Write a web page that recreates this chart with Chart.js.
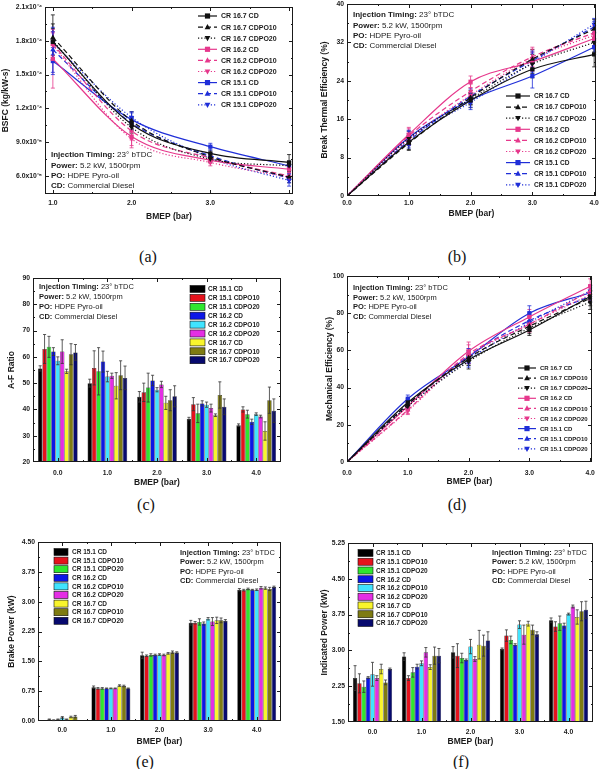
<!DOCTYPE html>
<html><head><meta charset="utf-8">
<script src="https://cdn.jsdelivr.net/npm/chart.js@4.4.1/dist/chart.umd.min.js"></script>
<style>
html,body{margin:0;padding:0;background:#fff;width:600px;height:769px;overflow:hidden;position:relative;}
canvas{position:absolute;}
.sub{position:absolute;font-family:'Liberation Serif','DejaVu Serif',serif;font-size:16px;color:#111;transform:translate(-50%,-50%);white-space:nowrap;}
</style></head><body>
<div class="sub" style="left:148px;top:257px">(a)</div>
<div class="sub" style="left:457px;top:257px">(b)</div>
<div class="sub" style="left:146px;top:505px">(c)</div>
<div class="sub" style="left:457px;top:505px">(d)</div>
<div class="sub" style="left:145px;top:762px">(e)</div>
<div class="sub" style="left:461px;top:762px">(f)</div>
<script>
// ================= DATA =================
const bmepCats = ['0.0', '1.0', '2.0', '3.0', '4.0'];
const bmepBsfc = [1, 2, 3, 4];
const bmepEff = [0, 1, 2, 3, 4];
const bmepTicks = [0, 1, 2, 3, 4];
const lineSeries = ['CR 16.7 CD', 'CR 16.7 CDPO10', 'CR 16.7 CDPO20', 'CR 16.2 CD', 'CR 16.2 CDPO10', 'CR 16.2 CDPO20', 'CR 15.1 CD', 'CR 15.1 CDPO10', 'CR 15.1 CDPO20'];
const barSeries = ['CR 15.1 CD', 'CR 15.1 CDPO10', 'CR 15.1 CDPO20', 'CR 16.2 CD', 'CR 16.2 CDPO10', 'CR 16.2 CDPO20', 'CR 16.7 CD', 'CR 16.7 CDPO10', 'CR 16.7 CDPO20'];

// (a) BSFC (kg/kW-s)
const bsfcTicks = [6.0e-5, 9.0e-5, 1.2e-4, 1.5e-4, 1.8e-4, 2.1e-4];
const bsfcValues = [
  [1.79e-4, 1.06e-4, 0.80e-4, 0.72e-4],
  [1.83e-4, 1.09e-4, 0.77e-4, 0.59e-4],
  [1.80e-4, 1.03e-4, 0.75e-4, 0.69e-4],
  [1.64e-4, 0.95e-4, 0.74e-4, 0.66e-4],
  [1.77e-4, 1.00e-4, 0.76e-4, 0.60e-4],
  [1.76e-4, 0.93e-4, 0.72e-4, 0.59e-4],
  [1.62e-4, 1.10e-4, 0.86e-4, 0.69e-4],
  [1.72e-4, 1.07e-4, 0.78e-4, 0.58e-4],
  [1.78e-4, 1.12e-4, 0.76e-4, 0.56e-4]
];
const bsfcErr = [
  [0.12e-4, 0.06e-4, 0.03e-4, 0.07e-4],
  [0.20e-4, 0.08e-4, 0.03e-4, 0.05e-4],
  [0.15e-4, 0.05e-4, 0.03e-4, 0.04e-4],
  [0.26e-4, 0.10e-4, 0.03e-4, 0.03e-4],
  [0.10e-4, 0.08e-4, 0.02e-4, 0.03e-4],
  [0.12e-4, 0.06e-4, 0.03e-4, 0.03e-4],
  [0.12e-4, 0.06e-4, 0.03e-4, 0.04e-4],
  [0.20e-4, 0.06e-4, 0.03e-4, 0.04e-4],
  [0.10e-4, 0.05e-4, 0.03e-4, 0.05e-4]
];

// (b) Brake thermal efficiency (%)
const bteTicks = [0, 8, 16, 24, 32, 40];
const bteValues = [
  [0, 11.2, 19.9, 26.4, 29.5],
  [0, 11.0, 20.5, 28.5, 34.8],
  [0, 12.0, 20.2, 27.5, 32.0],
  [0, 12.8, 23.8, 28.0, 32.8],
  [0, 12.5, 21.8, 29.0, 34.0],
  [0, 11.8, 21.0, 28.6, 33.5],
  [0, 12.2, 20.0, 25.0, 31.0],
  [0, 11.5, 20.8, 28.2, 35.2],
  [0, 12.0, 19.5, 27.8, 35.8]
];
const bteErr = [
  [0, 1.5, 1.5, 1.8, 2.6],
  [0, 1.5, 1.5, 2.0, 2.0],
  [0, 1.5, 1.2, 2.0, 2.0],
  [0, 1.5, 1.2, 2.0, 1.5],
  [0, 1.5, 1.5, 2.0, 1.5],
  [0, 1.2, 1.5, 2.0, 1.5],
  [0, 1.5, 1.5, 2.5, 1.5],
  [0, 1.5, 1.5, 2.0, 1.2],
  [0, 1.5, 1.5, 2.0, 1.2]
];

// (c) A-F ratio
const afTicks = [20, 30, 40, 50, 60, 70, 80, 90];
const afValues = [
  [55.6, 50.0, 44.8, 36.5, 34.0],
  [63.0, 55.8, 46.5, 42.0, 40.0],
  [63.8, 54.5, 48.3, 38.5, 38.2],
  [62.0, 58.2, 51.0, 42.3, 35.3],
  [58.5, 52.5, 47.5, 41.8, 38.2],
  [62.0, 52.8, 49.5, 40.5, 37.3],
  [54.5, 49.0, 42.5, 37.8, 31.8],
  [61.0, 53.0, 43.5, 45.5, 43.5],
  [61.7, 52.0, 45.0, 41.0, 39.5]
];
const afErr = [
  [1.0, 1.5, 2.0, 0.5, 0.5],
  [5.5, 6.5, 3.5, 2.5, 1.0],
  [4.0, 9.0, 5.5, 3.5, 1.5],
  [1.5, 4.0, 2.0, 1.0, 1.0],
  [1.5, 2.0, 0.8, 1.0, 0.5],
  [4.5, 1.0, 1.2, 1.5, 0.5],
  [0.8, 5.0, 2.5, 0.5, 3.5],
  [4.0, 5.5, 4.0, 5.0, 5.0],
  [3.0, 4.5, 4.0, 3.0, 4.5]
];

// (d) Mechanical efficiency (%)
const meTicks = [0, 20, 40, 60, 80, 100];
const meValues = [
  [0, 32.0, 55.0, 71.0, 89.0],
  [0, 31.0, 56.0, 73.0, 88.0],
  [0, 30.0, 54.0, 72.0, 86.0],
  [0, 30.0, 59.5, 78.0, 94.5],
  [0, 28.0, 58.0, 74.0, 92.0],
  [0, 27.5, 57.0, 74.0, 90.0],
  [0, 34.0, 56.5, 80.0, 91.0],
  [0, 31.0, 57.0, 76.0, 89.0],
  [0, 30.0, 55.0, 75.0, 92.0]
];
const meErr = [
  [0, 2, 3, 3, 3],
  [0, 2, 4, 3, 4],
  [0, 2, 4, 3, 4],
  [0, 2, 5, 4, 4],
  [0, 2, 5, 4, 3],
  [0, 2, 4, 4, 3],
  [0, 2, 3, 4, 3],
  [0, 2, 4, 4, 3],
  [0, 2, 4, 4, 3]
];

// (e) Brake power (kW)
const bpTicks = [0, 0.75, 1.5, 2.25, 3.0, 3.75, 4.5];
const bpValues = [
  [0.01, 0.85, 1.65, 2.47, 3.30],
  [0.04, 0.82, 1.64, 2.47, 3.29],
  [0.02, 0.82, 1.66, 2.49, 3.32],
  [0.04, 0.82, 1.66, 2.45, 3.30],
  [0.09, 0.82, 1.67, 2.57, 3.30],
  [0.04, 0.82, 1.66, 2.50, 3.35],
  [0.10, 0.89, 1.70, 2.53, 3.34],
  [0.11, 0.88, 1.73, 2.53, 3.32],
  [0.01, 0.82, 1.72, 2.52, 3.37]
];
const bpErr = [
  [0, 0.03, 0.08, 0.06, 0.03],
  [0.01, 0.02, 0.02, 0.03, 0.02],
  [0.01, 0.02, 0.03, 0.08, 0.02],
  [0.01, 0.01, 0.02, 0.04, 0.01],
  [0.02, 0.01, 0.02, 0.03, 0.02],
  [0.01, 0.01, 0.02, 0.10, 0.03],
  [0.02, 0.02, 0.02, 0.08, 0.03],
  [0.03, 0.02, 0.03, 0.06, 0.04],
  [0, 0.01, 0.02, 0.03, 0.02]
];

// (f) Indicated power (kW)
const ipTicks = [1.5, 2.25, 3.0, 3.75, 4.5, 5.25];
const ipValues = [
  [2.42, 2.87, 2.96, 3.03, 3.63],
  [2.31, 2.42, 2.89, 3.31, 3.50],
  [2.24, 2.54, 2.84, 3.22, 3.57],
  [2.43, 2.66, 2.80, 3.12, 3.52],
  [2.50, 2.73, 3.08, 3.54, 3.76],
  [2.42, 2.96, 2.82, 3.33, 3.92],
  [2.61, 2.65, 3.12, 3.56, 3.70],
  [2.33, 2.89, 3.10, 3.43, 3.82],
  [2.61, 2.89, 3.21, 3.34, 3.85]
];
const ipErr = [
  [0.26, 0.08, 0.12, 0.02, 0.05],
  [0.20, 0.05, 0.25, 0.12, 0.10],
  [0.12, 0.10, 0.10, 0.08, 0.15],
  [0.02, 0.05, 0.02, 0.02, 0.05],
  [0.25, 0.05, 0.15, 0.08, 0.02],
  [0.05, 0.10, 0.05, 0.20, 0.03],
  [0.10, 0.05, 0.30, 0.05, 0.15],
  [0.05, 0.18, 0.22, 0.10, 0.20],
  [0.02, 0.15, 0.18, 0.05, 0.18]
];

const noteLines = [['Injection Timing: ', '23° bTDC'], ['Power: ', '5.2 kW, 1500rpm'], ['PO: ', 'HDPE Pyro-oil'], ['CD: ', 'Commercial Diesel']];

// ================= STYLE =================
const FONT = "'Liberation Sans', Arial, sans-serif";
const INK = '#1a1a1a';
const lineColors = ['#111111', '#111111', '#111111', '#e6388c', '#e6388c', '#e6388c', '#1f2ed8', '#1f2ed8', '#1f2ed8'];
const lineDash = [[], [5, 3], [1.2, 2], [], [5, 3], [1.2, 2], [], [5, 3], [1.2, 2]];
const lineMarks = ['rect', 'tri', 'down', 'rect', 'tri', 'down', 'rect', 'tri', 'down'];
const barColors = ['#000000', '#e5121c', '#2fe62f', '#0c16e6', '#40e4ff', '#e42ee4', '#f9f52c', '#7e7b12', '#07096e'];

function sup(s) {
  const m = {'-': '⁻', '0': '⁰', '1': '¹', '2': '²', '3': '³', '4': '⁴', '5': '⁵', '6': '⁶', '7': '⁷', '8': '⁸', '9': '⁹'};
  return String(s).split('').map(c => m[c] || c).join('');
}
function sci(v) {
  const e = Math.floor(Math.log10(v) + 1e-9);
  const m = v / Math.pow(10, e);
  return m.toFixed(1) + 'x10' + sup(e);
}
function mids(arr) {
  const r = [];
  for (let i = 0; i < arr.length - 1; i++) r.push((arr[i] + arr[i + 1]) / 2);
  return r;
}

function drawMark(ctx, kind, x, y, r, color) {
  ctx.fillStyle = color;
  ctx.beginPath();
  if (kind === 'rect') {
    ctx.rect(x - r, y - r, 2 * r, 2 * r);
  } else if (kind === 'tri') {
    ctx.moveTo(x, y - r * 1.2); ctx.lineTo(x + r * 1.1, y + r * 0.8); ctx.lineTo(x - r * 1.1, y + r * 0.8); ctx.closePath();
  } else {
    ctx.moveTo(x, y + r * 1.2); ctx.lineTo(x + r * 1.1, y - r * 0.8); ctx.lineTo(x - r * 1.1, y - r * 0.8); ctx.closePath();
  }
  ctx.fill();
}

// ================= PLUGINS =================
const framePlugin = {
  id: 'frame',
  afterDatasetsDraw(chart) {
    const o = chart.options.plugins.frame;
    const a = chart.chartArea, ctx = chart.ctx;
    const ys = chart.scales.y, xs = chart.scales.x;
    ctx.save();
    ctx.strokeStyle = INK; ctx.lineWidth = 1;
    ctx.strokeRect(Math.round(a.left) + 0.5, Math.round(a.top) + 0.5, Math.round(a.right - a.left) - 1, Math.round(a.bottom - a.top) - 1);
    const px = v => o.cat ? a.left + (v + 0.5) * (a.right - a.left) / o.cat : xs.getPixelForValue(v);
    const xt = (list, len) => list.forEach(v => {
      const x = Math.round(px(v)) + 0.5;
      if (x < a.left + 1 || x > a.right - 1) return;
      ctx.beginPath();
      ctx.moveTo(x, a.bottom); ctx.lineTo(x, a.bottom - len);
      ctx.moveTo(x, a.top); ctx.lineTo(x, a.top + len);
      ctx.stroke();
    });
    const yt = (list, len) => list.forEach(v => {
      const y = Math.round(ys.getPixelForValue(v)) + 0.5;
      if (y < a.top + 1 || y > a.bottom - 1) return;
      ctx.beginPath();
      ctx.moveTo(a.left, y); ctx.lineTo(a.left + len, y);
      ctx.moveTo(a.right, y); ctx.lineTo(a.right - len, y);
      ctx.stroke();
    });
    xt(o.xMajor, 4); xt(o.xMinor, 2);
    yt(o.yMajor, 4); yt(mids(o.yMajor), 2);
    ctx.restore();
  }
};

function drawErrors(chart) {
  const ctx = chart.ctx, ys = chart.scales.y;
  chart.data.datasets.forEach((ds, i) => {
    if (!ds.errorBars) return;
    const meta = chart.getDatasetMeta(i);
    ctx.save();
    ctx.strokeStyle = ds.errorColor || ds.borderColor;
    ctx.lineWidth = 0.8;
    meta.data.forEach((el, j) => {
      const e = ds.errorBars[j];
      if (!e) return;
      const raw = ds.data[j];
      const v = typeof raw === 'object' ? raw.y : raw;
      const y1 = ys.getPixelForValue(v + e), y2 = ys.getPixelForValue(v - e);
      const cw = el.width ? el.width * 0.35 : 2;
      ctx.beginPath();
      ctx.moveTo(el.x, y1); ctx.lineTo(el.x, y2);
      ctx.moveTo(el.x - cw, y1); ctx.lineTo(el.x + cw, y1);
      ctx.moveTo(el.x - cw, y2); ctx.lineTo(el.x + cw, y2);
      ctx.stroke();
    });
    ctx.restore();
  });
}
const errorPlugin = {
  id: 'errbars',
  beforeDatasetsDraw(chart) { if (chart.options.plugins.errbars.under) drawErrors(chart); },
  afterDatasetsDraw(chart) { if (!chart.options.plugins.errbars.under) drawErrors(chart); }
};

const legendPlugin = {
  id: 'keys',
  afterDraw(chart) {
    const o = chart.options.plugins.keys, b = chart.canvas.$box, ctx = chart.ctx;
    ctx.save();
    ctx.font = 'bold ' + o.size + 'px ' + FONT;
    ctx.textBaseline = 'middle';
    chart.data.datasets.forEach((ds, i) => {
      const y = o.y0 + i * o.dy - b.y;
      if (o.kind === 'line') {
        ctx.strokeStyle = ds.borderColor; ctx.lineWidth = 1.2;
        ctx.setLineDash(ds.borderDash || []);
        ctx.beginPath(); ctx.moveTo(o.x1 - b.x, y); ctx.lineTo(o.x2 - b.x, y); ctx.stroke();
        ctx.setLineDash([]);
        drawMark(ctx, ds.mark, (o.x1 + o.x2) / 2 - b.x, y, 2.6, ds.borderColor);
      } else {
        ctx.fillStyle = ds.backgroundColor;
        ctx.fillRect(o.sx - b.x, y - o.sh / 2, o.sw, o.sh);
        ctx.strokeStyle = '#111'; ctx.lineWidth = 0.6;
        ctx.strokeRect(o.sx - b.x, y - o.sh / 2, o.sw, o.sh);
      }
      ctx.fillStyle = INK;
      ctx.fillText(ds.label, o.tx - b.x, y + 0.5);
    });
    ctx.restore();
  }
};

const notePlugin = {
  id: 'note',
  afterDraw(chart) {
    const o = chart.options.plugins.note, b = chart.canvas.$box, ctx = chart.ctx;
    ctx.save();
    ctx.textBaseline = 'middle';
    ctx.fillStyle = INK;
    noteLines.forEach((ln, i) => {
      const y = o.y0 + i * o.dy - b.y;
      ctx.font = 'bold ' + o.size + 'px ' + FONT;
      const x = o.x - b.x;
      ctx.fillText(ln[0], x, y);
      const w = ctx.measureText(ln[0]).width;
      ctx.font = o.size + 'px ' + FONT;
      ctx.fillText(ln[1], x + w, y);
    });
    ctx.restore();
  }
};

// ================= BUILDER =================
function makeChart(spec) {
  const box = spec.box, plot = spec.plot;
  const cv = document.createElement('canvas');
  cv.width = box.w; cv.height = box.h;
  cv.style.left = box.x + 'px'; cv.style.top = box.y + 'px';
  cv.style.width = box.w + 'px'; cv.style.height = box.h + 'px';
  cv.$box = box;
  document.body.appendChild(cv);
  const bottom = box.y + box.h;
  const xts = 8.5, yts = 8.5;
  const tickFont = {family: FONT, size: 6.8, weight: 'bold'};
  const isCat = spec.type === 'bar';
  const xScale = {
    type: isCat ? 'category' : 'linear',
    offset: isCat,
    grid: {display: false, drawTicks: false, tickLength: 0},
    border: {display: false},
    ticks: {font: tickFont, color: INK, padding: spec.xTickY - plot.b - 3.5, maxRotation: 0, autoSkip: false},
    title: {display: true, text: 'BMEP (bar)', color: INK, font: {family: FONT, size: xts, weight: 'bold', lineHeight: 1.2},
      padding: {top: 0, bottom: bottom - spec.xTitleY - xts * 0.6}},
    afterFit: s => { s.height = bottom - plot.b; s.paddingLeft = 0; s.paddingRight = 0; }
  };
  if (!isCat) {
    xScale.min = spec.xMin; xScale.max = spec.xMax;
    xScale.afterBuildTicks = s => { s.ticks = spec.xTicks.map(v => ({value: v})); };
    xScale.ticks.callback = v => Number(v).toFixed(1);
  }
  const yScale = {
    type: 'linear',
    min: spec.yMin, max: spec.yMax,
    grid: {display: false, drawTicks: false, tickLength: 0},
    border: {display: false},
    ticks: {font: tickFont, color: INK, padding: 3, callback: spec.yFmt},
    title: {display: true, text: spec.yTitle, color: INK, font: {family: FONT, size: yts, weight: 'bold', lineHeight: 1.2},
      padding: {top: spec.yTitleX - box.x - yts * 0.6, bottom: 0}},
    afterBuildTicks: s => { s.ticks = spec.yTicks.map(v => ({value: v})); },
    afterFit: s => { s.width = plot.l - box.x; s.paddingTop = 0; s.paddingBottom = 0; }
  };
  const chart = new Chart(cv, {
    type: spec.type,
    data: {labels: isCat ? bmepCats : undefined, datasets: spec.datasets},
    options: {
      responsive: false, animation: false, devicePixelRatio: 1,
      layout: {padding: {left: 0, top: plot.t - box.y, right: box.x + box.w - plot.r, bottom: 0}},
      plugins: {
        legend: {display: false}, tooltip: {enabled: false},
        frame: {cat: isCat ? 5 : 0, xMajor: isCat ? [0, 1, 2, 3, 4] : spec.xTicks, xMinor: isCat ? [-0.5, 0.5, 1.5, 2.5, 3.5, 4.5] : spec.xMinor, yMajor: spec.yTicks},
        errbars: {under: !isCat},
        keys: spec.legend,
        note: spec.note
      },
      scales: {x: xScale, y: yScale}
    },
    plugins: [framePlugin, errorPlugin, legendPlugin, notePlugin]
  });
  return chart;
}

function lineSets(xs, vals, errs, hideFirst) {
  return lineSeries.map((name, i) => ({
    label: name,
    data: xs.map((x, j) => ({x: x, y: vals[i][j]})),
    borderColor: lineColors[i], backgroundColor: lineColors[i],
    borderWidth: 1.2, borderDash: lineDash[i],
    pointStyle: lineMarks[i] === 'rect' ? 'rect' : 'triangle',
    pointRotation: lineMarks[i] === 'down' ? 180 : 0,
    pointRadius: xs.map((x, j) => (hideFirst && j === 0) ? 0 : 3),
    pointBorderWidth: 0,
    cubicInterpolationMode: 'monotone',
    mark: lineMarks[i],
    errorBars: errs[i]
  }));
}
function barSets(vals, errs) {
  return barSeries.map((name, i) => ({
    label: name,
    data: vals[i],
    backgroundColor: barColors[i], borderColor: '#111', borderWidth: 0.5,
    categoryPercentage: 0.8, barPercentage: 1.0,
    errorBars: errs[i], errorColor: '#333'
  }));
}

// (a)
makeChart({
  type: 'line', box: {x: 0, y: 0, w: 300, h: 250}, plot: {l: 45, t: 7, r: 293, b: 194},
  xMin: 0.9, xMax: 4.05, xTicks: [1, 2, 3, 4], xMinor: [1.5, 2.5, 3.5], xTickY: 203, xTitleY: 217,
  yMin: 4.4e-5, yMax: 2.1e-4, yTicks: bsfcTicks, yFmt: v => sci(v), yTitle: 'BSFC (kg/kW-s)', yTitleX: 6,
  datasets: lineSets(bmepBsfc, bsfcValues, bsfcErr, false),
  legend: {kind: 'line', x1: 198, x2: 217, tx: 221, y0: 16, dy: 11.1, size: 7},
  note: {x: 51, y0: 155, dy: 10.3, size: 8}
});
// (b)
makeChart({
  type: 'line', box: {x: 300, y: 0, w: 300, h: 250}, plot: {l: 347, t: 3, r: 598, b: 196},
  xMin: 0, xMax: 4.03, xTicks: bmepTicks, xMinor: [0.5, 1.5, 2.5, 3.5], xTickY: 203, xTitleY: 214,
  yMin: 0, yMax: 40, yTicks: bteTicks, yFmt: v => String(v), yTitle: 'Break Thermal Efficiency (%)', yTitleX: 325,
  datasets: lineSets(bmepEff, bteValues, bteErr, true),
  legend: {kind: 'line', x1: 506, x2: 530, tx: 534, y0: 96, dy: 11.1, size: 6.6},
  note: {x: 353, y0: 15, dy: 10.3, size: 8}
});
// (c)
makeChart({
  type: 'bar', box: {x: 0, y: 262, w: 300, h: 250}, plot: {l: 33, t: 278, r: 281, b: 462},
  xTickY: 473, xTitleY: 483,
  yMin: 20, yMax: 90, yTicks: afTicks, yFmt: v => String(v), yTitle: 'A-F Ratio', yTitleX: 12,
  datasets: barSets(afValues, afErr),
  legend: {kind: 'box', sx: 190, sw: 15, sh: 7, tx: 208, y0: 289, dy: 8.9, size: 6.5},
  note: {x: 39, y0: 287, dy: 10, size: 7.5}
});
// (d)
makeChart({
  type: 'line', box: {x: 300, y: 262, w: 300, h: 250}, plot: {l: 347, t: 276, r: 592, b: 462},
  xMin: 0, xMax: 4.03, xTicks: bmepTicks, xMinor: [0.5, 1.5, 2.5, 3.5], xTickY: 473, xTitleY: 482,
  yMin: 0, yMax: 100, yTicks: meTicks, yFmt: v => String(v), yTitle: 'Mechanical Efficiency (%)', yTitleX: 330,
  datasets: lineSets(bmepEff, meValues, meErr, true),
  legend: {kind: 'line', x1: 518, x2: 536, tx: 540, y0: 368, dy: 10.1, size: 6},
  note: {x: 353, y0: 288, dy: 9.7, size: 7.5}
});
// (e)
makeChart({
  type: 'bar', box: {x: 0, y: 528, w: 300, h: 241}, plot: {l: 38, t: 542, r: 281, b: 721},
  xTickY: 730, xTitleY: 742,
  yMin: 0, yMax: 4.5, yTicks: bpTicks, yFmt: v => Number(v).toFixed(2), yTitle: 'Brake Power (kW)', yTitleX: 12,
  datasets: barSets(bpValues, bpErr),
  legend: {kind: 'box', sx: 54, sw: 14, sh: 7, tx: 72, y0: 552, dy: 8.6, size: 6.5},
  note: {x: 180, y0: 553, dy: 9.3, size: 7.5}
});
// (f)
makeChart({
  type: 'bar', box: {x: 300, y: 528, w: 300, h: 241}, plot: {l: 348, t: 543, r: 593, b: 722},
  xTickY: 732, xTitleY: 742,
  yMin: 1.5, yMax: 5.25, yTicks: ipTicks, yFmt: v => Number(v).toFixed(2), yTitle: 'Indicated Power (kW)', yTitleX: 325,
  datasets: barSets(ipValues, ipErr),
  legend: {kind: 'box', sx: 358, sw: 15, sh: 7, tx: 376, y0: 553, dy: 8.75, size: 6.5},
  note: {x: 492, y0: 553, dy: 9.4, size: 7.5}
});
</script>
</body></html>
